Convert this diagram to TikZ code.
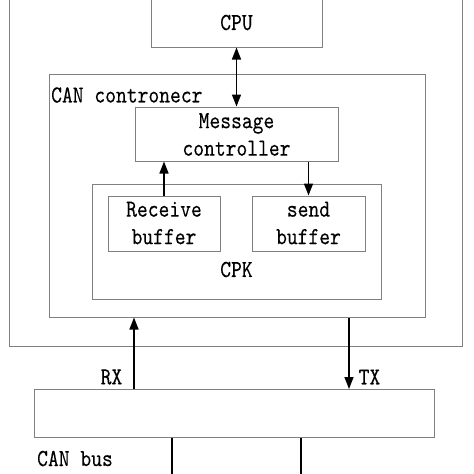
\documentclass[tikz,border=0pt]{standalone}
\usepackage{fontspec}
\usetikzlibrary{arrows.meta}
\newfontfamily\reffont{lmmono10-regular.otf}[FakeStretch=0.84,FakeBold=0.12]
\definecolor{boxgray}{HTML}{808080}
\tikzset{
  box/.style={draw=boxgray, line width=1pt, inner sep=0pt, anchor=center},
  lbl/.style={inner sep=0pt, font={\reffont\fontsize{24.5}{27.5}\selectfont}, align=center},
  conn/.style={line width=1.5pt, -{Triangle[length=12pt,width=9pt]}},
  dconn/.style={line width=1.5pt, {Triangle[length=12pt,width=9pt]}-{Triangle[length=12pt,width=9pt]}},
  plain/.style={line width=1.5pt}
}
\begin{document}
\begin{tikzpicture}[x=1pt,y=-1pt]
\clip (0,0) rectangle (474,474);
\fill[white] (0,0) rectangle (474,474);
% boxes
\node[box, minimum width=453pt, minimum height=356pt] (outer) at (235.5,168) {};
\node[box, minimum width=171pt, minimum height=49pt] (cpu) at (236.5,22.5) {};
\node[lbl] (cputxt) at (236.5,22.5) {CPU};
\node[box, minimum width=376pt, minimum height=243pt] (can) at (237,195.5) {};
\node[lbl, anchor=west] (cantxt) at (51,95) {CAN contronecr};
\node[box, minimum width=203pt, minimum height=54pt] (msg) at (236.5,134) {};
\node[lbl] (msgtxt) at (236.5,134.5) {Message\\controller};
\node[box, minimum width=289pt, minimum height=115pt] (cpk) at (236.5,241.5) {};
\node[lbl] (cpktxt) at (236.5,269.5) {CPK};
\node[box, minimum width=112pt, minimum height=55pt] (recv) at (164,223.5) {};
\node[lbl] (recvtxt) at (164,223) {Receive\\buffer};
\node[box, minimum width=113pt, minimum height=55pt] (send) at (308.5,223.5) {};
\node[lbl] (sendtxt) at (308.5,223) {send\\buffer};
\node[box, minimum width=400pt, minimum height=48pt] (bus) at (234,413) {};
\node[lbl, anchor=west] (bustxt) at (37,458.5) {CAN bus};
\node[lbl] (rxtxt) at (111.5,377) {RX};
\node[lbl] (txtxt) at (369.5,377) {TX};
% connectors
\draw[dconn] (cpu.south) -- (msg.north);
\draw[conn] (recv.north) -- (recv.north |- msg.south);
\draw[conn] (send.north |- msg.south) -- (send.north);
\coordinate (rx) at (134,389);
\coordinate (tx) at (349,389);
\draw[conn] (rx) -- (rx |- can.south);
\draw[conn] (tx |- can.south) -- (tx);
\coordinate (bl) at (172,480);
\coordinate (br) at (301,480);
\draw[plain] (bl |- bus.south) -- (bl);
\draw[plain] (br |- bus.south) -- (br);
\end{tikzpicture}
\end{document}
